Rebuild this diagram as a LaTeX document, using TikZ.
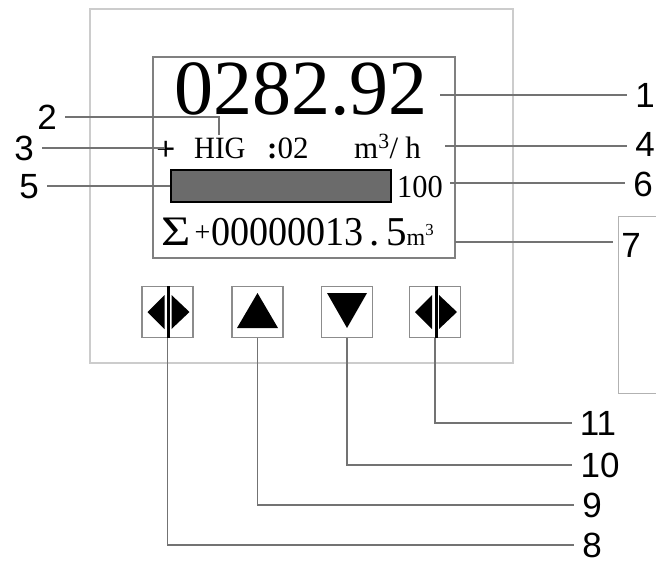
\documentclass[tikz,border=0pt]{standalone}
\usepackage{fontspec}
\setmainfont{Liberation Serif}
\newfontfamily\calloutfont{Liberation Sans}
\tikzset{
  callout/.style={font=\calloutfont\fontsize{35}{35}\selectfont, inner sep=0pt},
  lead/.style={draw=black!55, line width=1.6pt, shorten >=8pt},
  keybox/.style={draw=black!45, line width=1.6pt, minimum size=51pt, inner sep=0pt},
  lcdtext/.style={inner sep=0pt, anchor=base west, font=\fontsize{31}{31}\selectfont}
}
\begin{document}
\begin{tikzpicture}[x=1pt,y=-1pt]
\useasboundingbox (0,0) rectangle (656,563);

%draw meter housing and screen
\draw[black!20, line width=1.6pt] (90,9) rectangle (513,363);
\draw[black!50, line width=1.6pt] (153,57) rectangle (455,258);
\draw[black!30, line width=0.8pt] (656,216) -- (618,216) -- (618,393) -- (656,393);

%draw screen contents
\node[inner sep=0pt, font=\fontsize{78}{78}\selectfont] (reading) at (301,89) {0282.92};
\node[lcdtext, font=\fontsize{34}{34}\selectfont] (sign) at (156,160) {\textbf{+}};
\node[lcdtext] (mode) at (194,158) {\scalebox{0.93}[1]{HIG}};
\node[lcdtext] (chan) at (267,158) {\textbf{:}02};
\node[lcdtext] (unit) at (354,158) {m\textsuperscript{3}/\hspace{7pt}h};
\draw[line width=2.6pt, fill=black!58] (171,170) rectangle (391,202);
\node[lcdtext, font=\fontsize{32}{32}\selectfont] (span) at (397,197) {\scalebox{0.95}[1]{100}};
\node[lcdtext] (total) at (161,245) {{\fontsize{42}{42}\selectfont\scalebox{1.2}[1]{Σ}}\hspace{4pt}{\fontsize{28}{28}\selectfont\raisebox{4pt}{+}}\hspace{1pt}{\fontsize{41}{41}\selectfont\scalebox{0.93}[1]{00000013}\hspace{6pt}.\hspace{6pt}5}{\fontsize{24}{24}\selectfont m\textsuperscript{3}}};

%draw keys
\node[keybox] (b1) at (167.5,312) {};
\node[keybox] (b2) at (257.5,312) {};
\node[keybox] (b3) at (347,312) {};
\node[keybox] (b4) at (435,312) {};
\foreach \b in {b1,b4}{
  \fill (\b.center) ++(-20,0) -- ++(17,-17) -- ++(0,34) -- cycle;
  \fill (\b.center) ++(22,0) -- ++(-18,-17) -- ++(0,34) -- cycle;
  \fill ([xshift=-0.5pt]\b.north) rectangle ([xshift=2.5pt]\b.south);
}
\fill (b2.center) ++(0,-19) -- ++(20.5,35) -- ++(-41,0) -- cycle;
\fill (b3.center) ++(0,16) -- ++(20,-35) -- ++(-40,0) -- cycle;

%callout numbers
\node[callout] (l1) at (645,95) {1};
\node[callout] (l2) at (47,117) {2};
\node[callout] (l3) at (24,148) {3};
\node[callout] (l4) at (645,144) {4};
\node[callout] (l5) at (29,187) {5};
\node[callout] (l6) at (643,184) {6};
\node[callout] (l7) at (631,245) {7};
\node[callout] (l8) at (592,545) {8};
\node[callout] (l9) at (592,505) {9};
\node[callout] (l10) at (600,465) {10};
\node[callout] (l11) at (598,423) {11};

%leader lines
\coordinate (c1) at (440,95);
\coordinate (c2) at (219,135);
\coordinate (c3) at (165,148);
\coordinate (c4) at (445,146);
\coordinate (c5) at (170,186);
\coordinate (c6) at (450,183);
\coordinate (c7) at (455,242);
\draw[lead] (c1) -- (c1 -| l1.west);
\draw[lead] (c2) |- (l2.east);
\draw[lead] (c3) -- (c3 -| l3.east);
\draw[lead] (c4) -- (c4 -| l4.west);
\draw[lead] (c5) -- (c5 -| l5.east);
\draw[lead] (c6) -- (c6 -| l6.west);
\draw[lead] (c7) -- (c7 -| l7.west);
\draw[lead] (b1.south) |- (l8.west);
\draw[lead] (b2.south) |- (l9.west);
\draw[lead] (b3.south) |- (l10.west);
\draw[lead] (b4.south) |- (l11.west);
\end{tikzpicture}
\end{document}
